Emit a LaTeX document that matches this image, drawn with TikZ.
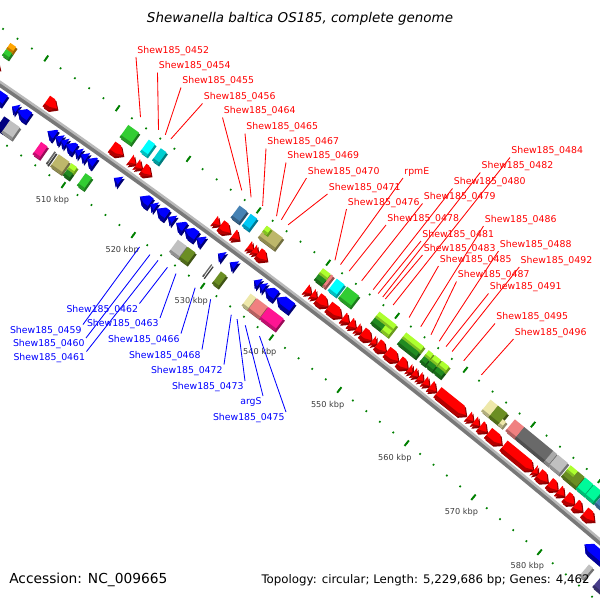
\documentclass[tikz,border=0pt]{standalone}
\usepackage{fontspec}
\setmainfont{DejaVu Sans}

\definecolor{fwdred}{RGB}{255,0,0}
\definecolor{revblue}{RGB}{0,0,255}
\definecolor{tickgreen}{RGB}{0,128,0}
\definecolor{klabgray}{RGB}{60,60,60}
\definecolor{bblight}{RGB}{185,185,185}
\definecolor{bbdark}{RGB}{120,120,120}
\definecolor{cogGreen}{RGB}{50,205,50}
\definecolor{cogCyan}{RGB}{0,255,255}
\definecolor{cogDCyan}{RGB}{0,206,209}
\definecolor{cogSky}{RGB}{0,200,245}
\definecolor{cogSteel}{RGB}{70,130,180}
\definecolor{cogKhaki}{RGB}{189,183,107}
\definecolor{cogPale}{RGB}{238,232,170}
\definecolor{cogLime}{RGB}{173,255,47}
\definecolor{cogDGreen}{RGB}{34,139,34}
\definecolor{cogSalmon}{RGB}{240,128,128}
\definecolor{cogPink}{RGB}{255,20,147}
\definecolor{cogGray}{RGB}{192,192,192}
\definecolor{cogMGray}{RGB}{170,170,170}
\definecolor{cogDGray}{RGB}{105,105,105}
\definecolor{cogOlive}{RGB}{107,142,35}
\definecolor{cogSpring}{RGB}{0,250,154}
\definecolor{cogOrange}{RGB}{255,165,0}
\definecolor{cogNavy}{RGB}{0,0,128}
\definecolor{cogSlate}{RGB}{72,61,139}

\tikzset{%
	rlab/.style   = {anchor=south west, inner sep=0.8pt, text=fwdred,
		font=\fontsize{6.65}{8}\selectfont},
	blab/.style   = {anchor=north east, inner sep=0.8pt, text=revblue,
		font=\fontsize{6.65}{8}\selectfont},
	klab/.style   = {inner sep=0pt, text=klabgray, font=\fontsize{5.8}{7}\selectfont}, % kbp labels
	rlead/.style  = {draw=fwdred, line width=0.6pt},
	blead/.style  = {draw=revblue, line width=0.6pt},
	gtick/.style  = {draw=tickgreen, line width=1.15pt},
	gmajor/.style = {draw=tickgreen, line width=1.35pt},
	depth/.style  = {shift={(2.4,-0.8)}} % 3d side of a feature
}

% position on the map: kbp, offset from the backbone
\newcommand{\gp}[2]{({(#1-545)*8.646*(1+(#2)/7196)},{(#2)-((#1-545)*0.072071)*((#1-545)*0.072071)})}
% forward gene: start, end, colour
\newcommand{\fwd}[3]{%
	\pgfmathsetmacro{\gHead}{min(0.8,#2-#1)}%
	\pgfmathsetmacro{\gNeck}{#2-\gHead}%
	\fill[#3!55!black, depth] \gp{#1}{5.5} -- \gp{\gNeck}{5.5} -- \gp{#2}{12} -- \gp{\gNeck}{18.5} -- \gp{#1}{18.5} -- cycle;
	\fill[#3] \gp{#1}{5.5} -- \gp{\gNeck}{5.5} -- \gp{#2}{12} -- \gp{\gNeck}{18.5} -- \gp{#1}{18.5} -- cycle;
	\fill[#3!70!black] \gp{#1}{5.5} -- \gp{\gNeck}{5.5} -- \gp{#2}{12} -- \gp{\gNeck}{9} -- \gp{#1}{9} -- cycle;
}
% reverse gene: start, end, colour
\newcommand{\rev}[3]{%
	\pgfmathsetmacro{\gHead}{min(0.8,#2-#1)}%
	\pgfmathsetmacro{\gNeck}{#1+\gHead}%
	\fill[#3!45!black, depth] \gp{#2}{-5.5} -- \gp{\gNeck}{-5.5} -- \gp{#1}{-12} -- \gp{\gNeck}{-18.5} -- \gp{#2}{-18.5} -- cycle;
	\fill[#3] \gp{#2}{-5.5} -- \gp{\gNeck}{-5.5} -- \gp{#1}{-12} -- \gp{\gNeck}{-18.5} -- \gp{#2}{-18.5} -- cycle;
	\fill[#3!60!black] \gp{#2}{-18.5} -- \gp{\gNeck}{-18.5} -- \gp{#1}{-12} -- \gp{\gNeck}{-15} -- \gp{#2}{-15} -- cycle;
}
% COG box: start, end, inner offset, outer offset, colour
\newcommand{\cog}[5]{%
	\fill[#5!60!black, depth] \gp{#1}{#3} -- \gp{#2}{#3} -- \gp{#2}{#4} -- \gp{#1}{#4} -- cycle;
	\fill[#5] \gp{#1}{#3} -- \gp{#2}{#3} -- \gp{#2}{#4} -- \gp{#1}{#4} -- cycle;
	\fill[#5!75!black] \gp{#1}{#3} -- \gp{#2}{#3} -- \gp{#2}{#3+2.5} -- \gp{#1}{#3+2.5} -- cycle;
}

\begin{document}
\begin{tikzpicture}[x=0.025cm, y=-0.025cm]
	\useasboundingbox (0,0) rectangle (600,600);
	\fill[white] (0,0) rectangle (600,600);
	
	\begin{scope}
	\clip (0,0) rectangle (600,600);
	\begin{scope}[shift={(8.35cm,-8.1575cm)}, x={(-37.63:0.025cm)}, y={(52.37:0.025cm)}]
		% backbone
		\draw[bbdark, line width=3pt] plot[domain=486:596, samples=60]
			({(\x-545)*8.646},{-1.0-((\x-545)*0.072071)*((\x-545)*0.072071)});
		\draw[bblight, line width=1.7pt] plot[domain=486:596, samples=60]
			({(\x-545)*8.646},{1.7-((\x-545)*0.072071)*((\x-545)*0.072071)});
		
		% tick rings
		\foreach \t in {488,490,...,596} {
			\draw[gtick] \gp{\t}{46.1} -- \gp{\t}{47.9};
			\draw[gtick] \gp{\t}{-47.9} -- \gp{\t}{-46.1};
		}
		\foreach \t in {490,500,...,590} {
			\draw[gmajor] \gp{\t}{43.5} -- \gp{\t}{50.5};
			\draw[gmajor] \gp{\t}{-50.5} -- \gp{\t}{-43.5};
		}
		\foreach \t in {510,520,...,580}
			\path \gp{\t}{-66} node[klab] (k\t) {\t\ kbp};
		
		% forward strand
		\foreach \s/\e in {494.0/496.3, 502.8/504.3, 512.0/513.6, 514.6/515.4, 515.5/516.3,
			516.4/517.6, 526.6/527.4, 527.5/528.9, 529.3/530.2, 531.5/532.2, 532.2/532.9,
			532.9/534.2, 539.8/540.6, 540.7/541.4, 541.5/543.0, 543.1/545.0, 545.2/546.1,
			546.2/547.1, 547.2/547.9, 548.0/549.4, 549.5/550.1, 550.2/551.5, 551.6/553.3,
			553.4/554.7, 554.8/555.4, 555.5/556.2, 556.3/557.0, 557.1/557.9, 558.0/558.9,
			559.1/563.3, 563.6/564.4, 564.5/565.3, 565.4/566.4, 566.6/568.6, 568.9/573.3,
			573.4/574.0, 574.1/575.5, 575.7/577.0, 577.1/578.0, 578.2/579.5, 579.6/580.7,
			581.0/582.5}
			\fwd{\s}{\e}{fwdred};
		
		% reverse strand
		\foreach \s/\e in {496.0/498.8, 499.9/500.6, 500.7/502.2, 504.9/505.9, 506.0/506.8,
			506.8/507.5, 507.5/508.7, 508.8/509.5, 509.6/510.4, 510.5/511.5, 514.3/515.1,
			518.0/519.4, 519.5/520.2, 520.4/521.8, 522.0/522.8, 523.2/524.3, 524.4/526.0,
			526.1/527.0, 529.2/529.9, 530.9/531.7, 534.4/535.1, 535.2/535.9, 536.0/537.5,
			537.7/539.8, 583.4/588.0}
			\rev{\s}{\e}{revblue};
		
		% COG boxes, forward
		\cog{495.6}{496.4}{32}{39.5}{cogOrange}
		\cog{495.6}{496.4}{24.5}{32}{cogGreen}
		\cog{512.1}{513.6}{24.5}{39.5}{cogGreen}
		\cog{515.0}{515.9}{24.5}{39.5}{cogCyan}
		\cog{516.7}{517.5}{24.5}{39.5}{cogDCyan}
		\cog{527.9}{529.0}{24.5}{39.5}{cogSteel}
		\cog{529.5}{530.4}{24.5}{39.5}{cogSky}
		\cog{531.8}{534.1}{24.5}{39.5}{cogKhaki}
		\cog{531.8}{532.4}{32}{39.5}{cogLime}
		\cog{539.9}{541.0}{32}{39.5}{cogLime}
		\cog{539.9}{541.0}{24.5}{32}{cogDGreen}
		\cog{541.1}{541.4}{24.5}{39.5}{cogSalmon}
		\cog{541.9}{543.0}{24.5}{39.5}{cogCyan}
		\cog{543.4}{545.1}{24.5}{39.5}{cogGreen}
		\cog{548.1}{550.6}{32}{39.5}{cogLime}
		\cog{548.1}{549.6}{24.5}{32}{cogDGreen}
		\cog{549.6}{550.6}{24.5}{32}{cogLime}
		\cog{552.0}{554.6}{32}{39.5}{cogLime}
		\cog{552.0}{554.6}{24.5}{32}{cogDGreen}
		\cog{555.3}{556.0}{32}{39.5}{cogLime}
		\cog{555.3}{556.0}{24.5}{32}{cogDGreen}
		\cog{556.2}{557.1}{32}{39.5}{cogLime}
		\cog{556.2}{557.1}{24.5}{32}{cogDGreen}
		\cog{557.3}{558.3}{32}{39.5}{cogLime}
		\cog{557.3}{558.3}{24.5}{32}{cogDGreen}
		\cog{564.4}{565.5}{24.5}{39.5}{cogPale}
		\cog{565.5}{566.9}{24.5}{39.5}{cogOlive}
		\cog{566.9}{567.4}{24.5}{32}{cogPale}
		\cog{568.0}{569.4}{24.5}{39.5}{cogSalmon}
		\cog{569.4}{573.7}{24.5}{39.5}{cogDGray}
		\cog{573.7}{574.3}{24.5}{39.5}{cogMGray}
		\cog{574.4}{575.9}{24.5}{39.5}{cogGray}
		\cog{576.3}{577.4}{32}{39.5}{cogLime}
		\cog{576.3}{577.4}{24.5}{32}{cogOlive}
		\cog{577.4}{578.4}{24.5}{39.5}{cogOlive}
		\cog{578.5}{579.7}{24.5}{39.5}{cogSpring}
		\cog{579.8}{581.0}{24.5}{39.5}{cogSpring}
		\cog{581.3}{583.0}{24.5}{39.5}{cogSteel}
		
		% COG boxes, reverse
		\cog{499.8}{500.6}{-39.5}{-24.5}{cogNavy}
		\cog{500.6}{502.0}{-39.5}{-24.5}{cogGray}
		\cog{505.0}{505.9}{-39.5}{-24.5}{cogPink}
		\cog{506.9}{507.1}{-39.5}{-24.5}{cogDGray}
		\cog{507.5}{509.0}{-39.5}{-24.5}{cogKhaki}
		\cog{509.3}{510.1}{-32}{-24.5}{cogLime}
		\cog{509.3}{510.1}{-39.5}{-32}{cogDGreen}
		\cog{511.3}{512.2}{-39.5}{-24.5}{cogGreen}
		\cog{524.5}{525.8}{-39.5}{-24.5}{cogGray}
		\cog{525.9}{527.0}{-39.5}{-24.5}{cogOlive}
		\cog{529.3}{529.45}{-39.5}{-24.5}{cogDGray}
		\cog{530.7}{531.5}{-39.5}{-24.5}{cogOlive}
		\cog{535.0}{535.8}{-39.5}{-24.5}{cogPale}
		\cog{535.9}{537.5}{-39.5}{-24.5}{cogSalmon}
		\cog{537.6}{539.8}{-39.5}{-24.5}{cogPink}
		\cog{585.3}{585.9}{-39.5}{-24.5}{cogGray}
		\cog{587.3}{588.5}{-39.5}{-24.5}{cogSlate}
		
		% label ends
		\foreach \g/\p in {0452/512.72, 0454/515.26, 0455/516.22, 0456/517.02, 0464/527.07,
			0465/528.40, 0467/530.05, 0469/532.04, 0470/532.73, 0471/533.70, 0476/540.45,
			rpmE/541.25, 0478/542.49, 0479/544.31, 0480/545.98, 0481/546.71, 0482/547.37,
			0483/547.74, 0484/548.87, 0485/551.2, 0486/552.9, 0487/554.4, 0488/555.6,
			0491/556.6, 0492/557.5, 0495/559.2, 0496/561.8}
			\path \gp{\p}{53} coordinate (e\g);
		\foreach \g/\p in {0459/521.4, 0460/522.9, 0461/524.06, 0462/525.42, 0463/526.65,
			0466/529.43, 0468/531.68, 0472/534.68, 0473/535.53, argS/536.73, 0475/538.8}
			\path \gp{\p}{-53} coordinate (e\g);
	\end{scope}
	\end{scope}
	
	% forward labels
	\node[rlab] (l0452) at (136,57) {Shew185\_0452};
	\node[rlab] (l0454) at (157.5,72.5) {Shew185\_0454};
	\node[rlab] (l0455) at (181,87.5) {Shew185\_0455};
	\node[rlab] (l0456) at (202.5,103.5) {Shew185\_0456};
	\node[rlab] (l0464) at (222.5,117.5) {Shew185\_0464};
	\node[rlab] (l0465) at (245,133.5) {Shew185\_0465};
	\node[rlab] (l0467) at (266,148.5) {Shew185\_0467};
	\node[rlab] (l0469) at (286,162.5) {Shew185\_0469};
	\node[rlab] (l0470) at (306.5,178) {Shew185\_0470};
	\node[rlab] (l0471) at (327.5,194) {Shew185\_0471};
	\node[rlab] (l0476) at (346.5,209) {Shew185\_0476};
	\node[rlab] (lrpmE) at (403,178) {rpmE};
	\node[rlab] (l0478) at (386,225) {Shew185\_0478};
	\node[rlab] (l0479) at (422.5,203.5) {Shew185\_0479};
	\node[rlab] (l0480) at (452.5,188.5) {Shew185\_0480};
	\node[rlab] (l0481) at (421,241) {Shew185\_0481};
	\node[rlab] (l0482) at (480.3,172.5) {Shew185\_0482};
	\node[rlab] (l0483) at (422.5,255) {Shew185\_0483};
	\node[rlab] (l0484) at (510,157.5) {Shew185\_0484};
	\node[rlab] (l0485) at (438.5,266) {Shew185\_0485};
	\node[rlab] (l0486) at (483.5,226) {Shew185\_0486};
	\node[rlab] (l0487) at (456.5,281.5) {Shew185\_0487};
	\node[rlab] (l0488) at (498.5,251) {Shew185\_0488};
	\node[rlab] (l0491) at (488.5,293.5) {Shew185\_0491};
	\node[rlab] (l0492) at (519.3,267) {Shew185\_0492};
	\node[rlab] (l0495) at (495,323.5) {Shew185\_0495};
	\node[rlab] (l0496) at (513.5,339) {Shew185\_0496};
	\foreach \g in {0452,0454,0455,0456,0464,0465,0467,0469,0470,0471,0476,rpmE,0478,
		0479,0480,0481,0482,0483,0484,0485,0486,0487,0488,0491,0492,0495,0496}
		\draw[rlead] (l\g.south west) -- (e\g);
	
	% reverse labels
	\node[blab] (l0459) at (83,324.5) {Shew185\_0459};
	\node[blab] (l0460) at (86,338) {Shew185\_0460};
	\node[blab] (l0461) at (86.5,351.5) {Shew185\_0461};
	\node[blab] (l0462) at (139.5,303.5) {Shew185\_0462};
	\node[blab] (l0463) at (160,318) {Shew185\_0463};
	\node[blab] (l0466) at (181,333.5) {Shew185\_0466};
	\node[blab] (l0468) at (202,349.5) {Shew185\_0468};
	\node[blab] (l0472) at (224,364.5) {Shew185\_0472};
	\node[blab] (l0473) at (245,381) {Shew185\_0473};
	\node[blab] (largS) at (263,396) {argS};
	\node[blab] (l0475) at (286,412) {Shew185\_0475};
	\foreach \g in {0459,0460,0461,0462,0463,0466,0468,0472,0473,argS,0475}
		\draw[blead] (l\g.north east) -- (e\g);
	
	% title and footer
	\node[font=\fontsize{9.56}{11}\selectfont\itshape] (title) at (300,19)
		{Shewanella baltica OS185, complete genome};
	\node[anchor=west, inner sep=0pt, font=\fontsize{9.8}{11}\selectfont] (acc) at (9,580)
		{Accession: NC\_009665};
	\node[anchor=east, inner sep=0pt, font=\fontsize{8.4}{10}\selectfont] (topo) at (590,580)
		{Topology: circular; Length: 5,229,686 bp; Genes: 4,462};
\end{tikzpicture}
\end{document}
